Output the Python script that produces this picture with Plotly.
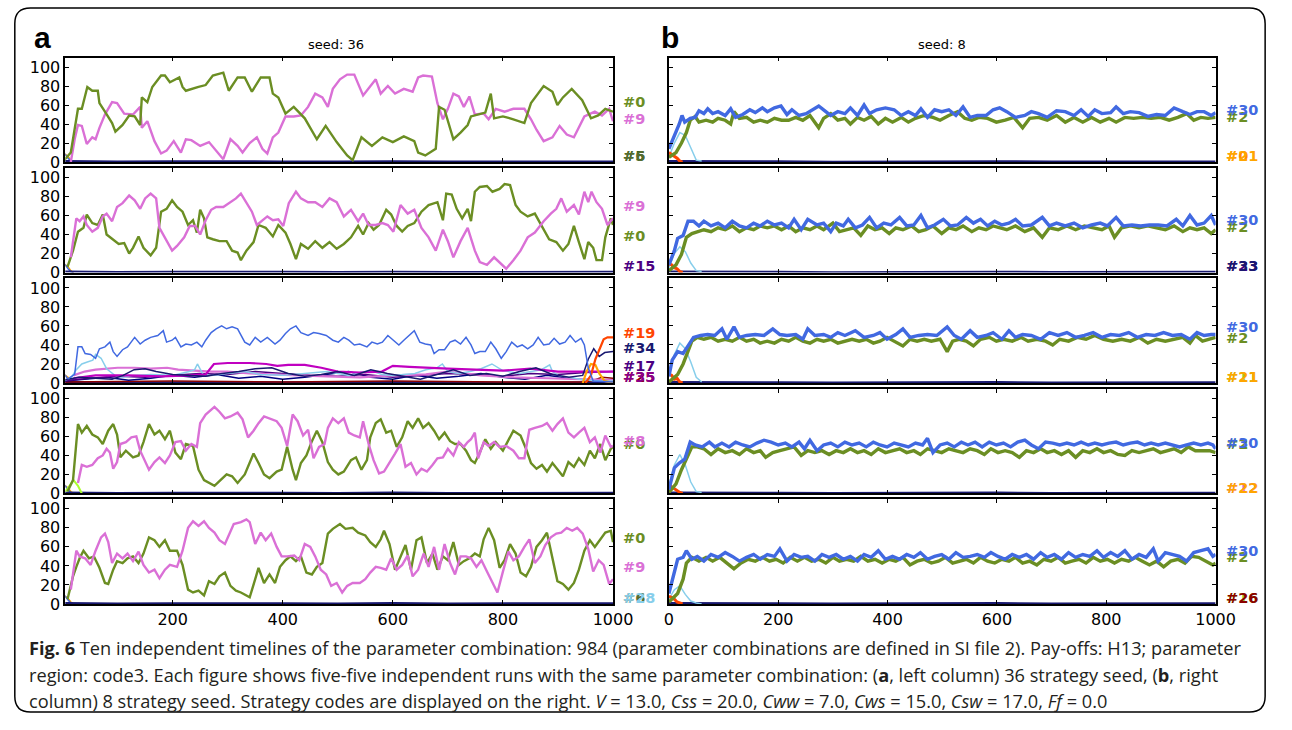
import plotly.graph_objects as go

W, H = 1292, 730

# ---------------- colours ----------------
OLIVE = "#6B8E23"
ORCHID = "#DA70D6"
ROYAL = "#4169E1"
SKY = "#87CEEB"
ORED = "#FF4500"
ORANGE = "#FFA500"
NAVY = "#191970"
NAVY2 = "#000080"
INDIGO = "#4B0082"
MAGENTA = "#C000C0"
DKOLIVE = "#556B2F"
DKRED = "#8B0000"

# ---------------- left column (seed 36) ----------------
A1_GREEN_X = [0,15,28,35,45,54,64,67,77,90,96,109,121,131,141,144,154,163,179,186,195,212,218,224,247,260,273,292,302,318,331,344,360,376,382,392,405,420,440,462,478,498,517,527,543,562,581,600,620,639,646,659,678,684,694,704,710,723,736,742,755,768,778,784,800,819,839,851,874,890,899,909,925,944,960,973,986,1000]
A1_GREEN_Y = [0,10,56,56,79,75,75,62,53,41,32,39,49,48,39,68,63,79,91,91,84,89,79,75,79,81,91,94,75,89,89,74,89,89,72,68,51,58,46,24,38,21,7,2,26,17,26,21,27,22,10,7,14,58,55,34,24,31,39,48,50,52,72,46,48,45,41,62,80,74,60,68,77,65,46,49,56,53]
A1_PINK_X = [15,22,28,35,44,54,60,67,77,90,99,112,128,141,144,154,167,179,189,202,215,224,234,250,266,279,292,305,318,327,340,353,363,372,382,392,405,420,433,446,459,472,482,491,504,517,530,546,569,578,591,604,620,636,646,655,671,681,691,700,710,720,729,739,749,765,774,787,803,819,839,851,861,874,890,903,916,929,948,967,980,993,1000]
A1_PINK_Y = [0,24,39,38,19,26,24,36,50,63,62,51,50,58,36,43,22,9,12,22,10,24,23,17,21,12,3,24,17,10,20,26,14,9,26,31,48,48,49,58,72,68,58,77,87,92,92,70,87,72,80,72,77,74,89,91,90,62,45,56,72,69,58,69,50,51,45,56,53,56,56,45,34,22,26,38,29,26,48,53,49,56,43]

A2_GREEN_X = [9,19,28,38,44,54,64,73,80,90,102,112,121,128,138,147,160,170,179,189,199,208,218,228,237,244,250,257,263,273,285,298,308,318,324,334,347,356,369,382,392,405,414,424,433,446,459,472,485,498,511,524,537,546,556,565,575,588,597,607,617,627,639,652,665,681,691,697,707,716,726,736,742,749,758,771,781,794,803,813,823,832,845,858,871,884,897,909,919,929,938,948,955,964,970,980,986,996,1000]
A2_GREEN_Y = [6,23,43,47,61,52,50,61,40,35,30,31,20,26,38,26,18,26,64,67,76,69,64,50,55,42,66,57,37,35,33,33,23,21,13,23,32,50,47,38,50,42,30,14,30,25,33,26,32,25,30,37,49,40,52,45,50,66,61,49,43,49,52,64,71,74,55,83,82,67,57,67,54,85,90,91,85,88,93,92,71,64,59,62,49,35,32,23,30,49,32,14,32,26,13,13,37,57,50]
A2_PINK_X = [15,25,31,38,44,54,64,73,80,90,99,109,121,131,141,150,160,170,176,189,199,208,221,231,241,250,260,270,279,292,305,315,324,334,344,353,363,372,382,392,401,411,424,433,446,459,472,485,498,511,524,537,546,556,569,581,591,601,614,627,639,652,665,678,691,700,710,723,736,749,758,771,784,797,806,819,832,845,858,874,887,897,906,916,929,938,948,955,961,970,980,990,1000]
A2_PINK_Y = [16,57,54,59,50,43,47,59,62,54,69,73,81,76,67,78,83,78,47,33,23,28,37,49,49,40,55,66,69,69,74,78,83,74,64,50,55,59,55,56,49,73,85,78,74,74,69,78,74,59,66,54,62,50,50,52,50,43,71,62,66,47,37,23,45,33,16,33,47,23,11,8,16,9,4,13,23,37,42,54,62,67,78,64,71,61,85,74,85,74,67,50,57]

A3_BLUE_X = [9,22,28,35,41,51,60,67,77,86,92,99,109,118,131,141,150,160,173,183,189,199,205,215,224,234,244,253,260,270,279,289,298,308,318,324,331,340,350,360,372,386,395,405,414,424,433,446,456,466,479,491,501,511,520,530,540,553,562,572,581,591,601,611,620,630,639,649,659,669,675,684,694,704,713,723,733,742,749,758,768,778,787,797,806,816,826,835,845,855,864,874,884,893,903,913,922,932,942,948,955,964,1000]
A3_BLUE_Y = [4,9,38,38,31,30,26,36,38,43,33,28,35,38,48,41,45,48,50,55,43,45,48,38,41,40,43,38,45,53,57,60,57,59,57,50,43,40,48,43,48,41,45,52,57,60,53,50,53,52,50,45,43,48,45,40,41,38,43,41,43,50,45,40,45,50,55,43,41,40,31,35,35,43,45,41,48,40,31,33,33,43,36,26,33,43,38,40,36,40,48,40,41,47,41,43,50,43,47,40,16,2,1]
A3_SKY_X = [0,15,25,35,45,55,60,70,80,95,110,130,160,200,230,240,245,255,270,300,330,360,400,440,480,500,520,540,560,580,600,640,660,680,690,700,720,740,760,780,800,830,850,870,885,890,900,920,940,960,980,1000]
A3_SKY_Y = [2,5,14,20,22,24,30,26,15,8,6,8,9,8,12,14,20,9,8,10,12,9,8,10,12,10,8,11,13,9,8,10,14,16,20,12,10,12,15,20,13,10,12,14,19,12,8,6,4,3,2,2]
A3_ORCHID_X = [20,40,60,80,100,130,160,190,210,240,270,300,340,380,420,480,540,600,660,700,760,820,880,940,1000]
A3_ORCHID_Y = [8,12,14,15,16,16,15,16,14,13,12,12,10,9,8,7,6,8,9,12,8,6,5,4,3]
A3_MAGENTA_X = [20,60,120,180,230,260,275,300,340,370,390,410,440,470,500,540,580,600,630,660,700,750,800,850,900,950,1000]
A3_MAGENTA_Y = [5,8,8,7,8,9,20,21,21,20,18,19,19,16,12,11,12,18,17,16,15,14,13,15,12,12,12]
A3_NAVY_X = [0,30,60,90,110,130,150,170,200,230,260,290,320,350,380,410,440,470,500,530,560,590,620,650,680,710,740,770,800,830,860,890,920,945,955,965,975,985,1000]
A3_NAVY_Y = [3,6,5,4,8,14,15,12,9,8,7,10,12,15,16,10,7,9,12,8,14,10,7,4,9,14,8,10,7,12,16,9,6,8,25,36,28,32,33]
A3_NAVY2_X = [0,40,80,120,160,200,240,280,320,360,400,440,480,520,560,600,640,680,720,760,800,840,880,920,960,1000]
A3_NAVY2_Y = [2,4,6,3,5,8,6,9,5,7,4,6,9,12,6,4,8,5,7,10,6,4,8,5,3,2]
A3_INDIGO_X = [0,50,100,150,200,250,300,350,400,450,500,550,600,650,700,750,800,850,900,950,1000]
A3_INDIGO_Y = [2,5,7,6,8,10,9,12,10,8,7,9,6,8,10,9,7,10,9,11,12]
A3_ORED_X = [950,960,968,975,983,990,1000]
A3_ORED_Y = [0,8,25,35,46,48,48]
A3_ORANGE_X = [945,952,960,968,975,985,1000]
A3_ORANGE_Y = [0,12,20,19,10,2,0]
A3_DKRED_X = [0,200,400,600,800,950,965,980,1000]
A3_DKRED_Y = [1,2,1,2,1,1,3,6,5]

A4_GREEN_X = [9,19,28,35,44,54,64,73,83,92,99,105,115,128,138,147,157,167,176,186,195,205,215,224,237,247,257,266,276,285,298,308,318,331,340,347,356,366,376,389,398,408,418,424,433,443,453,462,472,482,491,501,511,524,533,543,553,559,569,578,588,597,607,617,627,636,646,655,665,675,684,694,704,713,723,733,742,749,758,768,778,787,800,810,819,832,842,851,861,871,880,890,899,909,919,929,938,948,958,967,977,986,996,1000]
A4_GREEN_Y = [2,14,73,64,71,62,59,52,66,73,62,38,45,38,40,54,73,62,66,57,66,43,36,52,50,25,14,11,8,13,20,18,11,20,32,42,32,20,16,23,25,49,25,14,32,40,55,66,54,33,25,20,23,35,38,25,35,59,74,78,64,66,49,59,76,69,79,69,74,66,57,64,55,52,52,45,35,32,43,57,47,54,45,57,66,61,47,32,26,30,23,32,25,18,33,28,37,30,45,37,52,35,47,49]
A4_PINK_X = [28,35,44,54,64,73,80,86,92,99,105,115,125,134,141,150,157,167,176,186,195,205,215,224,234,244,250,260,270,276,285,295,305,318,327,337,347,356,366,376,389,398,408,418,427,437,446,456,466,476,482,491,501,511,520,530,540,546,556,565,575,584,594,604,614,623,633,643,652,662,672,681,691,700,710,720,729,736,742,749,755,765,774,784,794,806,819,829,839,848,858,871,880,890,899,909,919,929,938,948,958,967,977,986,996,1000]
A4_PINK_Y = [11,30,28,30,37,40,47,43,26,33,52,54,59,60,45,33,25,33,38,32,40,54,55,45,52,49,74,83,88,91,86,79,81,85,78,59,66,74,81,79,76,69,50,83,76,61,67,37,49,52,69,79,74,79,64,61,59,76,52,35,21,23,32,42,52,28,32,20,26,23,30,37,38,47,40,54,49,54,57,64,37,54,50,54,49,50,45,37,37,67,69,71,74,66,73,79,64,59,64,69,54,59,43,61,49,50]

A5_GREEN_X = [9,19,25,31,38,48,57,67,77,83,92,99,109,118,128,138,147,157,167,176,186,195,208,218,228,237,247,257,266,276,285,295,305,315,324,334,340,350,356,366,376,386,395,405,414,424,433,443,453,462,472,482,491,504,514,527,537,550,559,569,578,584,594,604,614,623,633,643,652,662,672,681,691,700,710,720,729,739,749,758,765,774,784,794,803,813,823,832,842,851,861,871,880,890,899,909,919,929,938,948,958,967,977,986,996,1000]
A5_GREEN_Y = [5,29,39,48,56,48,50,38,22,21,36,45,43,48,50,43,53,70,67,60,67,56,56,41,15,12,14,9,24,21,29,33,19,14,12,9,7,26,38,22,31,22,39,46,50,45,50,33,31,39,43,74,79,84,79,80,75,72,65,60,68,77,63,36,50,62,36,67,70,43,53,36,50,46,65,41,45,48,53,50,68,80,67,38,46,63,53,33,29,39,60,67,75,50,24,21,15,22,36,56,67,60,68,75,77,65]
A5_PINK_X = [15,25,31,41,51,60,70,77,83,90,99,109,118,128,138,147,157,167,176,186,195,208,218,228,237,247,257,266,276,285,295,305,311,324,334,340,350,360,369,379,389,398,408,421,430,440,450,459,469,479,488,498,508,517,527,540,550,559,569,578,588,597,607,617,627,636,646,656,665,675,684,694,704,713,723,733,742,752,761,771,781,790,800,810,819,829,839,848,858,868,877,887,897,906,916,926,935,945,955,964,974,983,993,1000]
A5_PINK_Y = [15,56,50,48,41,56,70,74,65,43,53,48,53,45,55,41,33,36,27,36,41,39,56,80,87,82,87,80,75,67,63,77,84,86,89,86,63,75,67,74,60,50,50,51,46,63,60,50,36,31,19,22,12,19,22,22,26,33,39,38,36,48,36,41,51,29,36,53,39,60,36,63,43,31,50,50,48,39,46,34,22,12,34,55,46,50,60,68,43,50,62,70,74,75,80,77,80,74,58,34,46,41,21,26]

# ---------------- right column (seed 8) ----------------
B1_BLUE_X = [0,10,19,24,29,39,48,55,64,71,80,90,103,113,122,135,148,158,171,180,193,205,216,225,238,251,264,274,287,296,309,322,332,345,357,367,380,396,412,425,438,451,461,473,486,499,512,525,538,551,564,580,593,605,618,634,651,663,676,692,709,725,741,754,767,779,792,808,818,831,844,860,876,892,908,924,940,953,966,979,992,1000]
B1_BLUE_Y = [14,27,40,49,42,46,47,54,51,56,51,53,49,56,47,50,55,52,57,53,57,59,50,55,49,51,55,59,53,49,53,51,57,49,60,51,55,57,55,49,53,49,56,47,55,53,55,49,58,47,49,49,55,57,53,47,49,53,51,47,54,53,49,55,48,55,51,52,58,51,53,52,48,50,49,57,53,50,53,53,49,52]
B1_GREEN_X = [0,13,23,32,39,48,55,68,80,90,103,113,119,129,142,155,167,180,193,206,219,232,245,258,274,283,296,309,322,332,345,357,370,383,396,409,425,438,451,467,483,496,512,528,541,554,567,583,599,615,631,647,660,676,692,709,725,741,757,773,789,805,818,834,850,866,882,899,915,931,947,960,973,986,1000]
B1_GREEN_Y = [5,10,20,31,44,48,42,44,42,46,44,40,53,46,47,42,44,42,46,44,44,47,44,49,36,46,51,44,46,40,47,44,48,40,46,42,47,42,46,49,47,44,49,53,46,44,47,46,42,44,47,36,46,47,44,49,42,47,42,47,42,46,42,47,46,47,46,47,44,47,51,44,47,46,47]

B2_BLUE_X = [0,10,16,26,35,45,55,64,77,90,103,116,129,142,155,167,180,193,206,219,229,242,254,271,283,296,306,319,328,341,354,367,380,393,406,422,435,448,461,473,486,502,515,528,544,557,570,583,596,609,622,634,647,663,683,696,709,725,741,757,773,789,802,818,831,847,863,879,895,911,928,940,953,966,979,992,1000]
B2_BLUE_Y = [8,23,36,39,54,54,49,54,49,52,47,54,49,47,52,49,54,50,52,47,56,45,56,50,52,43,52,49,56,47,50,58,47,52,50,58,49,50,60,47,50,56,49,50,58,52,56,49,54,50,52,56,49,50,58,49,52,49,52,47,50,52,49,58,49,50,49,50,50,49,56,49,60,50,52,60,50]
B2_GREEN_X = [0,13,23,32,42,52,64,77,90,103,116,129,142,155,167,180,193,206,219,232,245,258,271,283,300,312,325,338,351,364,377,390,403,415,428,444,457,470,483,499,512,525,538,554,567,580,593,605,618,634,651,667,683,696,712,728,744,760,776,792,805,815,828,844,860,876,892,908,924,940,953,966,979,992,1000]
B2_GREEN_Y = [2,8,19,37,41,43,45,43,47,45,49,43,47,45,49,47,49,45,49,43,47,45,49,45,52,43,45,47,39,49,45,47,41,47,45,49,43,45,49,41,47,45,49,43,47,45,49,47,45,49,43,47,37,47,45,49,45,49,47,45,49,37,47,49,47,49,47,45,49,43,47,45,47,41,45]

B3_BLUE_X = [0,6,16,26,35,45,58,71,84,97,106,119,129,142,158,174,190,203,216,232,245,254,267,283,296,309,322,341,357,374,386,399,415,428,441,457,473,490,509,522,535,551,564,580,593,609,622,634,647,663,680,696,712,728,744,760,776,792,808,824,841,857,873,889,905,921,937,953,966,979,992,1000]
B3_BLUE_Y = [7,24,33,31,39,48,50,51,50,57,46,59,48,50,51,50,57,51,50,51,46,57,50,51,48,53,50,55,48,50,53,46,51,57,48,50,51,50,59,50,46,55,48,50,53,46,55,48,51,50,46,53,50,53,48,50,53,48,51,50,53,48,51,50,53,50,51,46,53,50,51,51]
B3_GREEN_X = [0,16,26,35,42,52,64,77,90,103,116,129,142,155,167,180,193,206,219,232,245,258,271,283,296,309,322,335,348,361,374,386,399,412,428,441,454,467,480,496,509,519,531,544,557,570,586,599,612,628,644,657,673,689,702,715,731,747,763,779,795,812,828,844,860,876,892,908,924,940,953,963,976,989,1000]
B3_GREEN_Y = [1,9,20,35,44,48,46,48,44,46,44,48,44,46,42,44,42,46,44,48,44,42,46,44,46,42,44,46,44,46,42,44,48,44,39,46,44,46,44,46,33,44,46,44,39,46,48,44,46,44,48,44,46,44,40,46,44,48,46,50,46,44,46,44,48,42,46,44,46,48,42,50,44,46,48]

B4_BLUE_X = [0,10,19,29,39,48,61,74,84,97,110,122,135,148,161,174,187,200,213,225,238,248,258,271,283,296,309,322,335,348,361,374,386,399,412,425,438,451,464,473,483,496,509,522,535,547,560,573,586,599,612,625,638,651,663,676,689,702,715,728,741,754,767,779,792,805,818,831,844,857,870,882,895,908,921,934,947,960,973,986,995,1000]
B4_BLUE_Y = [4,27,32,36,54,51,49,54,49,53,49,54,51,49,53,56,54,51,53,49,54,47,56,45,51,53,49,54,51,53,49,54,51,49,53,51,49,53,51,58,43,51,53,49,54,51,54,49,54,51,53,49,54,56,51,47,54,53,51,53,51,54,51,53,51,53,54,51,53,54,51,53,51,53,51,49,51,53,51,53,51,47]
B4_GREEN_X = [0,13,23,32,42,52,64,77,90,103,116,129,142,155,167,177,190,203,216,229,242,254,267,280,293,306,319,332,345,357,370,383,396,409,422,435,448,460,473,486,499,512,525,538,551,564,577,589,602,615,628,641,654,667,680,692,705,718,731,744,757,770,783,795,808,821,834,847,860,873,886,899,911,924,937,950,963,976,989,1000]
B4_GREEN_Y = [1,10,25,36,49,49,47,41,47,43,45,41,47,43,45,38,43,45,47,49,40,45,43,45,41,45,43,47,43,45,41,47,43,45,47,43,45,41,47,45,43,47,45,43,47,45,41,47,43,45,43,38,45,43,47,43,45,41,45,38,45,43,47,43,45,41,40,45,43,45,47,43,45,47,43,49,45,45,45,43]

B5_BLUE_X = [0,10,16,26,32,42,52,64,77,90,103,116,129,142,155,167,180,193,203,216,229,242,254,267,280,293,306,319,332,345,357,370,383,396,409,422,435,448,460,473,486,499,512,525,538,551,564,577,589,602,615,628,641,654,667,680,692,705,718,731,744,757,770,783,795,808,821,834,847,860,873,886,895,908,921,934,947,960,973,986,995,1000]
B5_BLUE_Y = [11,34,47,49,56,47,50,45,52,49,54,50,45,49,52,47,52,50,58,45,52,49,50,45,52,49,52,47,50,45,52,49,56,47,50,47,52,49,54,47,50,52,47,54,49,50,52,49,54,50,47,52,49,52,47,54,49,52,47,54,49,52,50,56,49,54,50,56,47,52,49,58,45,54,52,50,45,54,56,58,50,52]
B5_GREEN_X = [0,16,26,32,42,55,68,80,93,106,119,132,145,158,171,184,196,209,222,235,248,261,274,287,300,312,325,338,351,364,377,390,403,415,428,441,454,467,480,493,506,519,531,544,557,570,583,596,609,622,634,647,660,673,686,699,712,725,737,750,763,776,789,802,815,828,841,853,866,879,892,905,918,931,944,956,969,982,995,1000]
B5_GREEN_Y = [2,11,26,43,49,45,49,45,49,43,37,43,47,45,49,45,47,43,49,45,49,45,47,43,49,45,47,45,50,45,47,43,47,45,49,41,45,47,43,45,49,43,45,47,43,49,45,43,47,45,49,43,45,41,47,45,49,43,45,47,43,49,45,47,43,47,45,49,45,41,45,39,45,47,43,50,49,45,41,43]

# early transients and the crowded baseline
START_X = [0, 5, 10, 15, 20]
START_BLUE_Y = [6, 8, 4, 1, 0]
START_ORANGE_Y = [3, 8, 6, 2, 0]
A4_LIME_X = [5, 12, 20, 28, 35]
A4_LIME_Y = [2, 8, 14, 8, 0]
RIGHT_RED_X = [0, 5, 10, 15, 20, 25]
RIGHT_RED_Y = [[10, 8, 6, 4, 1, 0], [9, 8, 5, 4, 1, 0], [9, 8, 4, 5, 1, 0], [9, 7, 5, 3, 1, 0], [8, 7, 5, 2, 1, 0]]
RIGHT_SKY_X = [0, 10, 20, 30, 40, 50, 60]
RIGHT_SKY_Y = [[5, 20, 31, 28, 15, 2, 1], [5, 20, 27, 22, 10, 2, 1], [8, 30, 42, 36, 22, 6, 1], [8, 30, 41, 30, 12, 2, 1], [5, 15, 19, 10, 3, 1, 0]]
BASE_X = [0, 100, 200, 300, 400, 500, 600, 700, 800, 900, 1000]
BASE_Y = [1, 0.5, 0.8, 0.4, 0.7, 0.5, 0.9, 0.5, 0.6, 0.4, 0.7]

# ---------------- end labels: (text, value, colour) ----------------
LABELS = [
    [("#5", 6.5, "#2E5E1E"), ("#6", 6.5, DKOLIVE), ("#0", 63.6, OLIVE), ("#9", 44.9, ORCHID)],
    [("#9", 69.5, ORCHID), ("#0", 38.6, OLIVE), ("#15", 6.5, INDIGO)],
    [("#19", 53.0, ORED), ("#34", 37.0, NAVY), ("#25", 6.2, DKRED), ("#35", 6.2, "#8B008B"), ("#17", 18.3, INDIGO)],
    [("#0", 52.5, OLIVE), ("#8", 55.6, ORCHID)],
    [("#0", 69.8, OLIVE), ("#9", 38.7, ORCHID), ("#6", 5.8, DKOLIVE), ("#28", 5.8, SKY)],
    [("#2", 47.7, OLIVE), ("#30", 54.6, ROYAL), ("#0", 6.2, "#FF8C00"), ("#21", 6.2, ORANGE)],
    [("#2", 48.0, OLIVE), ("#30", 55.0, ROYAL), ("#23", 6.5, INDIGO), ("#33", 6.5, NAVY)],
    [("#2", 47.3, OLIVE), ("#30", 58.7, ROYAL), ("#11", 5.8, "#9ACD32"), ("#21", 5.8, ORANGE)],
    [("#2", 51.5, OLIVE), ("#30", 52.9, ROYAL), ("#12", 5.5, ORCHID), ("#22", 5.5, ORANGE)],
    [("#2", 49.0, OLIVE), ("#30", 56.0, ROYAL), ("#16", 6.5, "#9ACD32"), ("#26", 6.5, DKRED)],
]

# ---------------- series per panel ----------------
W_MAIN_L, W_MAIN_R, W_THIN = 2.4, 3.4, 1.5
common_left = [(START_X, START_ORANGE_Y, ORANGE, 1.5), (START_X, START_BLUE_Y, ROYAL, 1.5),
               (BASE_X, BASE_Y, NAVY, 2.0)]
series = {
    0: common_left + [(A1_PINK_X, A1_PINK_Y, ORCHID, W_MAIN_L), (A1_GREEN_X, A1_GREEN_Y, OLIVE, W_MAIN_L)],
    1: common_left + [(A2_GREEN_X, A2_GREEN_Y, OLIVE, W_MAIN_L), (A2_PINK_X, A2_PINK_Y, ORCHID, W_MAIN_L)],
    2: common_left + [
        (A3_DKRED_X, A3_DKRED_Y, DKRED, 1.5),
        (A3_NAVY2_X, A3_NAVY2_Y, NAVY2, W_THIN),
        (A3_INDIGO_X, A3_INDIGO_Y, INDIGO, W_THIN),
        (A3_ORCHID_X, A3_ORCHID_Y, ORCHID, 2.2),
        (A3_SKY_X, A3_SKY_Y, SKY, W_THIN),
        (A3_MAGENTA_X, A3_MAGENTA_Y, MAGENTA, 2.2),
        (A3_NAVY_X, A3_NAVY_Y, NAVY, W_THIN),
        (A3_ORANGE_X, A3_ORANGE_Y, ORANGE, 2.2),
        (A3_ORED_X, A3_ORED_Y, ORED, 2.2),
        (A3_BLUE_X, A3_BLUE_Y, ROYAL, W_THIN)],
    3: common_left + [(A4_LIME_X, A4_LIME_Y, "#ADFF2F", 2.0), (A4_GREEN_X, A4_GREEN_Y, OLIVE, W_MAIN_L),
                      (A4_PINK_X, A4_PINK_Y, ORCHID, W_MAIN_L)],
    4: common_left + [(A5_GREEN_X, A5_GREEN_Y, OLIVE, W_MAIN_L), (A5_PINK_X, A5_PINK_Y, ORCHID, W_MAIN_L)],
}
right_main = [(B1_GREEN_X, B1_GREEN_Y, B1_BLUE_X, B1_BLUE_Y), (B2_GREEN_X, B2_GREEN_Y, B2_BLUE_X, B2_BLUE_Y),
              (B3_GREEN_X, B3_GREEN_Y, B3_BLUE_X, B3_BLUE_Y), (B4_GREEN_X, B4_GREEN_Y, B4_BLUE_X, B4_BLUE_Y),
              (B5_GREEN_X, B5_GREEN_Y, B5_BLUE_X, B5_BLUE_Y)]
for r in range(5):
    gx, gy, bx, by = right_main[r]
    series[5 + r] = [(BASE_X, BASE_Y, NAVY, 2.0), (RIGHT_SKY_X, RIGHT_SKY_Y[r], SKY, 1.5),
                     (RIGHT_RED_X, RIGHT_RED_Y[r], ORED, 3.0),
                     (gx, gy, OLIVE, W_MAIN_R), (bx, by, ROYAL, W_MAIN_R)]


# ---------------- layout geometry (window pixels -> paper) ----------------
def fx(px):
    return px / W


def fy(py):
    return 1 - py / H


LEFT_DOM = [fx(61.5), fx(620)]
RIGHT_DOM = [fx(677), fx(1234.5)]
PANEL_TOPS = [58.3 + 112 * i for i in range(5)]
PANEL_H = 106

fig = go.Figure()
layout = dict(width=W, height=H, margin=dict(l=0, r=0, t=0, b=0),
              paper_bgcolor="white", plot_bgcolor="white", showlegend=False,
              hovermode=False, annotations=[], shapes=[])

TICK_FONT = dict(family="DejaVu Sans", size=16, color="black")
for k in range(10):
    col, row = k // 5, k % 5
    idx = k + 1
    xa = "x" if idx == 1 else f"x{idx}"
    ya = "y" if idx == 1 else f"y{idx}"
    for (xs, ys, c, w) in series[k]:
        fig.add_trace(go.Scatter(x=xs, y=ys, mode="lines", line=dict(color=c, width=w),
                                 xaxis=xa, yaxis=ya, showlegend=False))
    top = PANEL_TOPS[row]
    axis_common = dict(ticks="inside", ticklen=4, tickwidth=1, tickcolor="black", mirror="allticks",
                       showline=True, linecolor="black", linewidth=1.6, showgrid=False, zeroline=False,
                       tickfont=TICK_FONT)
    layout["xaxis" if idx == 1 else f"xaxis{idx}"] = dict(
        domain=LEFT_DOM if col == 0 else RIGHT_DOM,
        range=[5, 1000] if col == 0 else [0, 1000],
        tickvals=[200, 400, 600, 800, 1000] if col == 0 else [0, 200, 400, 600, 800, 1000],
        showticklabels=(row == 4), anchor=ya, **axis_common)
    layout["yaxis" if idx == 1 else f"yaxis{idx}"] = dict(
        domain=[fy(top + PANEL_H), fy(top)], range=[0, 110],
        tickvals=[0, 20, 40, 60, 80, 100], showticklabels=(col == 0), anchor=xa, **axis_common)
    lx = fx(628 if col == 0 else 1243)
    for (txt, val, c) in LABELS[k]:
        layout["annotations"].append(dict(
            text=f"<b>{txt}</b>", x=lx, xref="paper", y=val, yref=ya, xanchor="left", yanchor="middle",
            showarrow=False, font=dict(family="DejaVu Sans", size=14.5, color=c)))

# titles and panel letters
layout["annotations"] += [
    dict(text="seed: 36", x=fx(338), y=fy(45), xref="paper", yref="paper", xanchor="center",
         yanchor="middle", showarrow=False, font=dict(family="DejaVu Sans", size=13, color="black")),
    dict(text="seed: 8", x=fx(955), y=fy(45), xref="paper", yref="paper", xanchor="center",
         yanchor="middle", showarrow=False, font=dict(family="DejaVu Sans", size=13, color="black")),
    dict(text="<b>a</b>", x=fx(28), y=fy(38), xref="paper", yref="paper", xanchor="left",
         yanchor="middle", showarrow=False, font=dict(family="Liberation Sans", size=30, color="black")),
    dict(text="<b>b</b>", x=fx(667), y=fy(38), xref="paper", yref="paper", xanchor="left",
         yanchor="middle", showarrow=False, font=dict(family="Liberation Sans", size=30, color="black")),
]

CAPTION = [
    "<b>Fig. 6</b> Ten independent timelines of the parameter combination: 984 (parameter combinations are defined in SI file 2). Pay-offs: H13; parameter",
    "region: code3. Each figure shows five-five independent runs with the same parameter combination: (<b>a</b>, left column) 36 strategy seed, (<b>b</b>, right",
    "column) 8 strategy seed. Strategy codes are displayed on the right. <i>V</i> = 13.0, <i>Css</i> = 20.0, <i>Cww</i> = 7.0, <i>Cws</i> = 15.0, <i>Csw</i> = 17.0, <i>Ff</i> = 0.0",
]
for i, line in enumerate(CAPTION):
    layout["annotations"].append(dict(
        text=line, x=fx(22), y=fy(657 + 27 * i), xref="paper", yref="paper", xanchor="left",
        yanchor="middle", showarrow=False, font=dict(family="Open Sans", size=18.2, color="#231f20")))

# rounded frame
x0, x1, y0, y1, r = 10, 1285, 8, 722, 16


def P(px, py):
    return f"{fx(px):.5f},{fy(py):.5f}"


frame = (f"M {P(x0 + r, y0)} L {P(x1 - r, y0)} Q {P(x1, y0)} {P(x1, y0 + r)} "
         f"L {P(x1, y1 - r)} Q {P(x1, y1)} {P(x1 - r, y1)} L {P(x0 + r, y1)} "
         f"Q {P(x0, y1)} {P(x0, y1 - r)} L {P(x0, y0 + r)} Q {P(x0, y0)} {P(x0 + r, y0)} Z")
layout["shapes"].append(dict(type="path", path=frame, xref="paper", yref="paper",
                             line=dict(color="black", width=1.5)))

fig.update_layout(**layout)
fig.write_html("out.html")
